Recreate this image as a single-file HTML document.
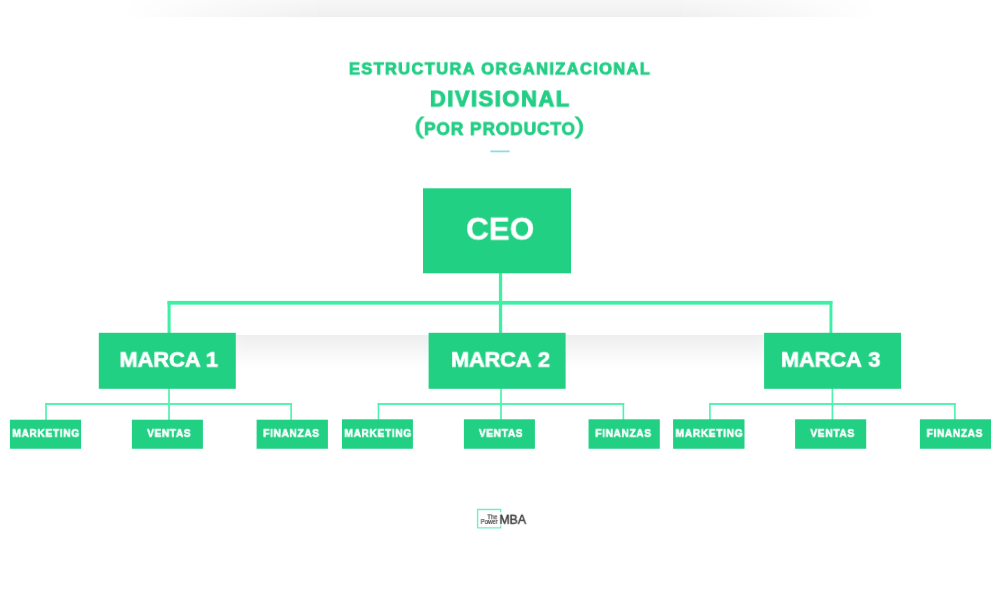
<!DOCTYPE html>
<html lang="es">
<head>
<meta charset="utf-8">
<title>Estructura organizacional divisional (por producto)</title>
<style>
html,body{margin:0;padding:0;background:#fff}
body{width:1000px;height:600px;position:relative;overflow:hidden;font-family:"Liberation Sans", sans-serif}
.abs,.tx,.sh,svg{position:absolute}
svg{left:0;top:0}
.tx{white-space:nowrap;line-height:1;transform-origin:0 0;will-change:transform;font-family:"Liberation Sans", sans-serif}
.sh1{left:120px;top:0;width:760px;height:17px;background:linear-gradient(to bottom,rgba(0,0,0,0.03) 0%,rgba(0,0,0,0.062) 100%);-webkit-mask-image:linear-gradient(to right,transparent 0%,#000 27%,#000 73%,transparent 100%);mask-image:linear-gradient(to right,transparent 0%,#000 27%,#000 73%,transparent 100%)}
.sh2{left:120px;top:335px;width:760px;height:33px;background:linear-gradient(to bottom,rgba(0,0,0,0.065) 0%,rgba(0,0,0,0) 100%);-webkit-mask-image:linear-gradient(to right,transparent 0%,#000 17%,#000 83%,transparent 100%);mask-image:linear-gradient(to right,transparent 0%,#000 17%,#000 83%,transparent 100%)}
</style>
</head>
<body>
<div class="sh sh1"></div>
<div class="sh sh2"></div>
<svg width="1000" height="600" viewBox="0 0 1000 600">
<rect x="490.4" y="150.5" width="19.2" height="1.8" fill="#8fd9ea"/>
<g class="lines">
<rect x="498.9" y="273" width="3.25" height="60.00" fill="#3ef0a5"/>
<rect x="167.55" y="300.9" width="664.85" height="3.75" fill="#3ef0a5"/>
<rect x="167.55" y="300.9" width="3.05" height="32.10" fill="#3ef0a5"/>
<rect x="829.45" y="300.9" width="2.95" height="32.10" fill="#3ef0a5"/>
<rect x="168.15" y="388" width="1.70" height="32.00" fill="#4ff3ad"/>
<rect x="45.2" y="403.05" width="246.75" height="1.90" fill="#4ff3ad"/>
<rect x="45.2" y="403.05" width="1.65" height="16.95" fill="#4ff3ad"/>
<rect x="290.3" y="403.05" width="1.65" height="16.95" fill="#4ff3ad"/>
<rect x="500.15" y="388" width="1.70" height="32.00" fill="#4ff3ad"/>
<rect x="377.65" y="403.05" width="246.55" height="1.90" fill="#4ff3ad"/>
<rect x="377.65" y="403.05" width="1.65" height="16.95" fill="#4ff3ad"/>
<rect x="622.55" y="403.05" width="1.65" height="16.95" fill="#4ff3ad"/>
<rect x="831.55" y="388" width="1.70" height="32.00" fill="#4ff3ad"/>
<rect x="709.1" y="403.05" width="246.60" height="1.90" fill="#4ff3ad"/>
<rect x="709.1" y="403.05" width="1.65" height="16.95" fill="#4ff3ad"/>
<rect x="954.05" y="403.05" width="1.65" height="16.95" fill="#4ff3ad"/>
</g>
<g class="boxes">
<rect x="423" y="188.3" width="148.00" height="85.00" fill="#22d084"/>
<rect x="98.8" y="332.8" width="137.00" height="56.00" fill="#22d084"/>
<rect x="428.6" y="332.8" width="137.00" height="56.00" fill="#22d084"/>
<rect x="764.1" y="332.8" width="136.90" height="56.00" fill="#22d084"/>
<rect x="9.95" y="419.7" width="71.10" height="29.05" fill="#22d084"/>
<rect x="131.9" y="419.7" width="71.00" height="29.05" fill="#22d084"/>
<rect x="256.6" y="419.7" width="71.30" height="29.05" fill="#22d084"/>
<rect x="342.0" y="419.3" width="70.90" height="29.45" fill="#22d084"/>
<rect x="463.9" y="419.3" width="71.00" height="29.45" fill="#22d084"/>
<rect x="588.55" y="419.3" width="71.25" height="29.45" fill="#22d084"/>
<rect x="673.1" y="419.3" width="71.40" height="29.45" fill="#22d084"/>
<rect x="795.1" y="419.3" width="71.10" height="29.45" fill="#22d084"/>
<rect x="919.9" y="419.3" width="71.10" height="29.45" fill="#22d084"/>
</g>
<path d="M500.7 512.3 V509.5 H477.6 V527.9 H500.7 V525.4" fill="none" stroke="#70f0bb" stroke-width="1.4"/>
</svg>
<span class="tx t1" style="left:348px;top:60px;font-size:18.2px;font-weight:700;color:#23ce85;-webkit-text-stroke:1.0px #23ce85;letter-spacing:1.584px;transform:translate(0.94px,0.81px) scale(0.9000,0.9013)">ESTRUCTURA ORGANIZACIONAL</span>
<span class="tx t2" style="left:429px;top:89px;font-size:23.0px;font-weight:700;color:#23ce85;-webkit-text-stroke:1.1px #23ce85;letter-spacing:1.650px;transform:translate(0.92px,0.00px) scale(0.9500,0.9121)">DIVISIONAL</span>
<span class="tx t3p" style="left:414px;top:115px;font-size:23.4px;font-weight:400;color:#23ce85;-webkit-text-stroke:0.9px #23ce85;transform:translate(0.52px,0.00px) scale(1.1834,0.9664)">(</span>
<span class="tx t3" style="left:424px;top:119px;font-size:19.2px;font-weight:700;color:#23ce85;-webkit-text-stroke:0.9px #23ce85;letter-spacing:1.039px;transform:translate(0.03px,0.47px) scale(0.9000,0.9585)">POR PRODUCTO</span>
<span class="tx t3p" style="left:575px;top:114px;font-size:23.4px;font-weight:400;color:#23ce85;-webkit-text-stroke:0.9px #23ce85;transform:translate(0.02px,0.97px) scale(1.1662,0.9660)">)</span>
<span class="tx ceo" style="left:466px;top:212px;font-size:32.0px;font-weight:700;color:#fff;-webkit-text-stroke:0.3px #fff;transform:translate(0.14px,0.84px) scale(0.9808,0.9910)">CEO</span>
<span class="tx m" style="left:119px;top:349px;font-size:22.0px;font-weight:700;color:#fff;-webkit-text-stroke:0.7px #fff;word-spacing:-0.010px;transform:translate(0.46px,0.31px) scale(0.9906,0.9676)">MARCA 1</span>
<span class="tx m" style="left:451px;top:349px;font-size:22.0px;font-weight:700;color:#fff;-webkit-text-stroke:0.7px #fff;word-spacing:1.350px;transform:translate(0.06px,0.31px) scale(0.9819,0.9676)">MARCA 2</span>
<span class="tx m" style="left:780px;top:349px;font-size:22.0px;font-weight:700;color:#fff;-webkit-text-stroke:0.7px #fff;word-spacing:1.433px;transform:translate(0.96px,0.31px) scale(0.9869,0.9676)">MARCA 3</span>
<span class="tx s" style="left:12px;top:428px;font-size:11px;font-weight:700;color:#fff;-webkit-text-stroke:0.55px #fff;letter-spacing:0.751px;transform:translate(0.40px,0.25px) scale(0.9200,0.9468)">MARKETING</span>
<span class="tx s" style="left:147px;top:428px;font-size:11px;font-weight:700;color:#fff;-webkit-text-stroke:0.55px #fff;letter-spacing:0.656px;transform:translate(0.20px,0.25px) scale(0.9200,0.9468)">VENTAS</span>
<span class="tx s" style="left:263px;top:428px;font-size:11px;font-weight:700;color:#fff;-webkit-text-stroke:0.55px #fff;letter-spacing:0.720px;transform:translate(0.20px,0.25px) scale(0.9200,0.9468)">FINANZAS</span>
<span class="tx s" style="left:344px;top:428px;font-size:11px;font-weight:700;color:#fff;-webkit-text-stroke:0.55px #fff;letter-spacing:0.751px;transform:translate(0.45px,0.25px) scale(0.9200,0.9468)">MARKETING</span>
<span class="tx s" style="left:478px;top:428px;font-size:11px;font-weight:700;color:#fff;-webkit-text-stroke:0.55px #fff;letter-spacing:0.722px;transform:translate(0.90px,0.25px) scale(0.9200,0.9468)">VENTAS</span>
<span class="tx s" style="left:595px;top:428px;font-size:11px;font-weight:700;color:#fff;-webkit-text-stroke:0.55px #fff;letter-spacing:0.705px;transform:translate(0.30px,0.25px) scale(0.9200,0.9468)">FINANZAS</span>
<span class="tx s" style="left:675px;top:428px;font-size:11px;font-weight:700;color:#fff;-webkit-text-stroke:0.55px #fff;letter-spacing:0.778px;transform:translate(0.60px,0.25px) scale(0.9200,0.9468)">MARKETING</span>
<span class="tx s" style="left:810px;top:428px;font-size:11px;font-weight:700;color:#fff;-webkit-text-stroke:0.55px #fff;letter-spacing:0.755px;transform:translate(0.40px,0.25px) scale(0.9200,0.9468)">VENTAS</span>
<span class="tx s" style="left:926px;top:428px;font-size:11px;font-weight:700;color:#fff;-webkit-text-stroke:0.55px #fff;letter-spacing:0.705px;transform:translate(0.65px,0.25px) scale(0.9200,0.9468)">FINANZAS</span>
<span class="tx lg" style="left:487px;top:513px;font-size:6.6px;font-weight:400;color:#333;-webkit-text-stroke:0.15px #333;transform:translate(0.25px,0.40px) scale(0.9000,1.1000)">The</span>
<span class="tx lg" style="left:480px;top:519px;font-size:6.6px;font-weight:400;color:#333;-webkit-text-stroke:0.15px #333;transform:translate(0.65px,0.00px) scale(0.9200,1.0000)">Power</span>
<span class="tx lg" style="left:499px;top:512px;font-size:13.6px;font-weight:400;color:#3a3a3a;-webkit-text-stroke:0.45px #3a3a3a;transform:translate(0.40px,0.80px) scale(0.9000,1.0000)">MBA</span>
</body>
</html>
